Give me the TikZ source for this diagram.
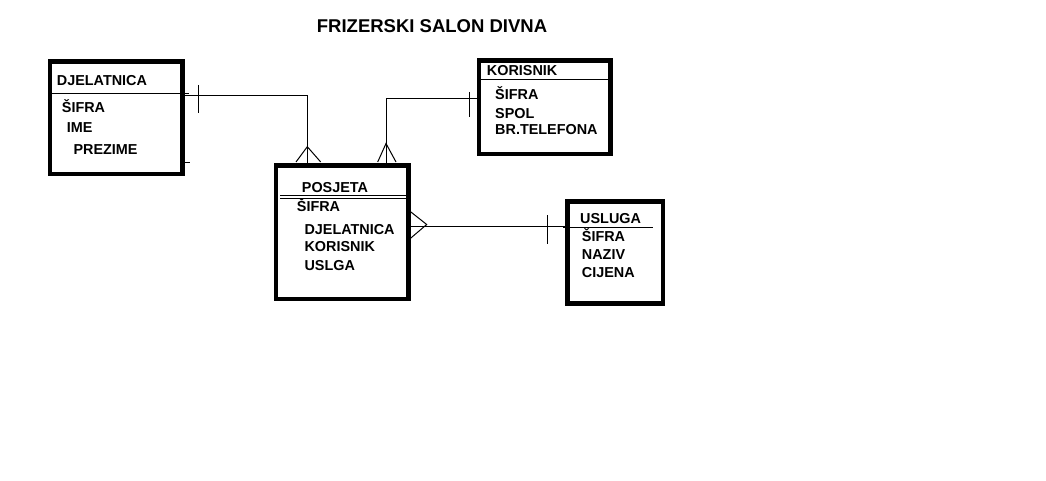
\documentclass[tikz,border=0pt]{standalone}
\usepackage{fontspec}
\setmainfont{Liberation Sans}
\begin{document}
\begin{tikzpicture}[x=1pt,y=-1pt,
  entity/.style={draw=black,line width=4.6pt,inner sep=0pt,minimum width=#1},
  txt/.style={anchor=base west,inner sep=0pt,font=\fontsize{14.4}{16}\selectfont\bfseries},
  ttl/.style={anchor=base west,inner sep=0pt,font=\fontsize{18.5}{20}\selectfont\bfseries},
  thin/.style={line width=1pt,draw=black}]
\useasboundingbox[fill=white] (0,0) rectangle (1046,481);

% title
\node[ttl] (title) at (316.7,32.3) {FRIZERSKI SALON DIVNA};

% entity boxes
\node[entity=132.5pt,minimum height=112.5pt] (djel) at (116.25,117.75) {};
\node[entity=131.5pt,minimum height=93.5pt] (kor) at (544.75,107.25) {};
\node[entity=132.5pt,minimum height=133.5pt] (pos) at (342.25,232.25) {};
\node[entity=95.5pt,minimum height=102pt] (usl) at (615.25,252.5) {};

% DJELATNICA
\node[txt] (d0) at (56.7,85.7) {DJELATNICA};
\draw[thin] (52,94) -- (189,94);
\draw[thin] (185,163) -- (190,163);
\node[txt] (d1) at (61.7,112.3) {ŠIFRA};
\node[txt] (d2) at (66.7,132.7) {IME};
\node[txt] (d3) at (73.3,154.3) {PREZIME};

% KORISNIK
\node[txt] (k0) at (486.7,75.7) {KORISNIK};
\draw[thin] (481,80) -- (608,80);
\node[txt] (k1) at (495,100) {ŠIFRA};
\node[txt] (k2) at (495,118.3) {SPOL};
\node[txt] (k3) at (495,135) {BR.TELEFONA};

% POSJETA
\node[txt] (p0) at (301.7,192.3) {POSJETA};
\draw[thin] (280,196) -- (407,196);
\draw[thin] (280,198.3) -- (407,198.3);
\node[txt] (p1) at (296.7,211.7) {ŠIFRA};
\node[txt] (p2) at (304.3,234) {DJELATNICA};
\node[txt] (p3) at (304.3,251.7) {KORISNIK};
\node[txt] (p4) at (304.3,270) {USLGA};

% USLUGA
\node[txt] (u0) at (580,223.3) {USLUGA};
\draw[thin] (563,227.3) -- (653,227.3);
\node[txt] (u1) at (581.7,241.7) {ŠIFRA};
\node[txt] (u2) at (581.7,259.3) {NAZIV};
\node[txt] (u3) at (581.7,277.7) {CIJENA};

% connector DJELATNICA - POSJETA
\coordinate (c1) at (307.3,96);
\draw[thin] (djel.east |- c1) -- (c1) -- (c1 |- pos.north);
\draw[thin] (198,85) -- (198,113);
\coordinate (a1) at (307.3,146.7);
\draw[thin] (296,162) -- (a1) -- (320.7,162);

% connector KORISNIK - POSJETA
\coordinate (c2) at (386,99);
\draw[thin] (kor.west |- c2) -- (c2) -- (c2 |- pos.north);
\draw[thin] (469,92) -- (469,117);
\coordinate (a2) at (386,143.5);
\draw[thin] (377.7,162) -- (a2) -- (396,162);

% connector POSJETA - USLUGA
\coordinate (c3) at (488,226);
\draw[thin] (c3 -| pos.east) -- (c3 -| usl.west);
\coordinate (a3) at (426.7,224.5);
\draw[thin] (410.5,211.7) -- (a3) -- (410.5,238.3);
\draw[thin] (547,215) -- (547,244);
\end{tikzpicture}
\end{document}
